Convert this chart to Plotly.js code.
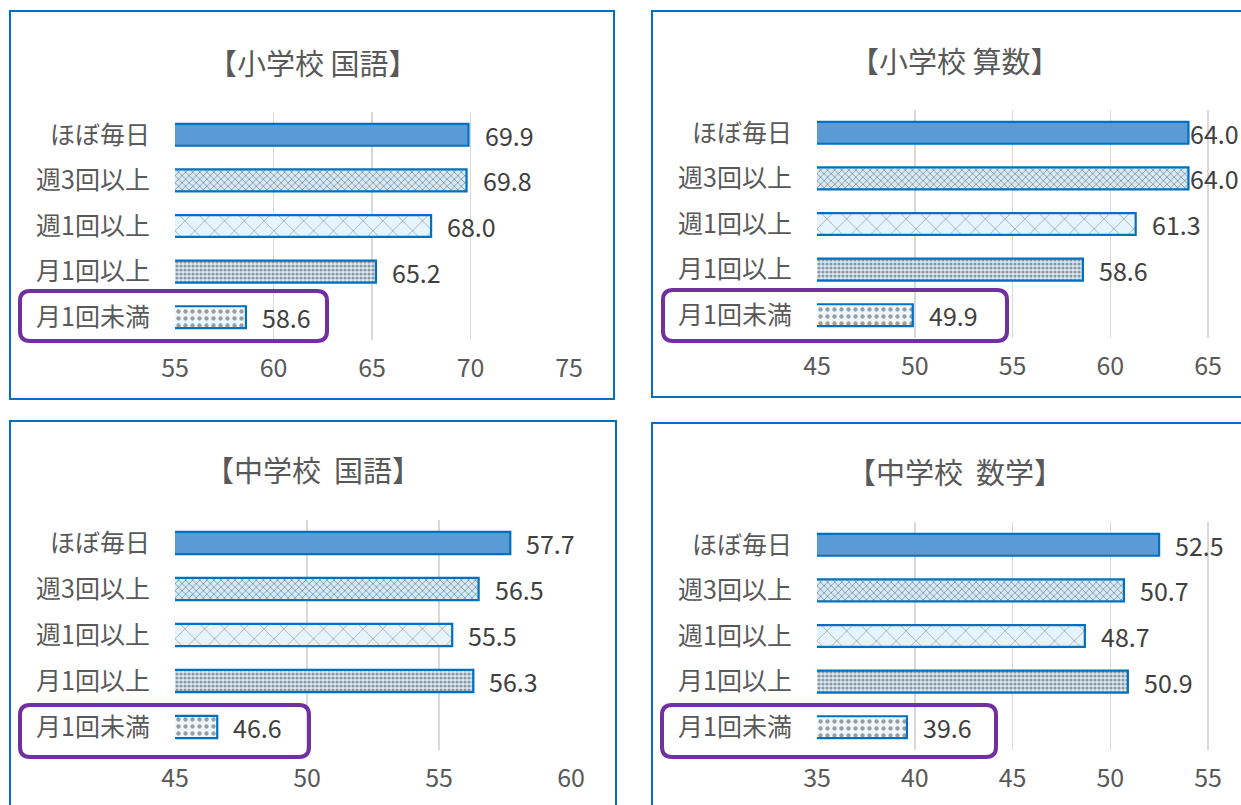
<!DOCTYPE html>
<html>
<head>
<meta charset="utf-8">
<script src="https://cdn.plot.ly/plotly-3.0.1.min.js"></script>
<style>html,body{margin:0;padding:0;background:#fff;}#chart{width:1241px;height:805px;}</style>
</head>
<body>
<div id="chart"></div>
<script>
// ---- data ----
const categories = ['ほぼ毎日', '週3回以上', '週1回以上', '月1回以上', '月1回未満'];
const elemJapanese = [69.9, 69.8, 68.0, 65.2, 58.6];
const elemMath     = [64.0, 64.0, 61.3, 58.6, 49.9];
const juniorJapanese = [57.7, 56.5, 55.5, 56.3, 46.6];
const juniorMath     = [52.5, 50.7, 48.7, 50.9, 39.6];
const titles = ['【小学校 国語】', '【小学校 算数】', '【中学校  国語】', '【中学校  数学】'];
const ticks1 = [55, 60, 65, 70, 75];
const ticks2 = [45, 50, 55, 60, 65];
const ticks3 = [45, 50, 55, 60];
const ticks4 = [35, 40, 45, 50, 55];
const series = [elemJapanese, elemMath, juniorJapanese, juniorMath];
const tickSets = [ticks1, ticks2, ticks3, ticks4];

// ---- layout geometry (pixels) ----
const W = 1241, H = 805;
const geo = [
  {xmin:55, pxPerUnit:(569-175)/20, x0:175, x1:569, y0:112, y1:340, tx:313, ty:62, box:[10,11,614,399], hl:[20,291,327,341], right:614},
  {xmin:45, pxPerUnit:(1208-817)/20, x0:817, x1:1241, y0:110, y1:338, tx:955, ty:60, box:[652,11,1262,397], hl:[663,290,1007,341], right:1240},
  {xmin:45, pxPerUnit:(571-175)/15, x0:175, x1:571, y0:520, y1:750, tx:313, ty:469, box:[10,421,616,815], hl:[20,705,309,757], right:616},
  {xmin:35, pxPerUnit:(1208-817)/20, x0:817, x1:1241, y0:522, y1:750, tx:955, ty:471, box:[652,423,1262,815], hl:[662,705,996,757], right:1240}
];
const px = x => x / W;
const py = y => 1 - y / H;

const fillColors = ['#5B9BD5', '#D3EAF9', '#E6F4FD', '#D9EBF8', '#EEF7FD'];
const patShapes = ['', 'x', 'x', '.', '.'];
const patSizes = [8, 5, 14, 4, 7];
const patSolid = [0.3, 0.32, 0.1, 0.5, 0.3];
const patFg = ['#2E75B6', '#285F92', '#3D6F96', '#2E6FA8', '#4A86BC'];
const fontFam = '"Noto Sans CJK JP", "Noto Sans", sans-serif';

const traces = [];
const layout = {
  width: W, height: H,
  margin: {l:0, r:0, t:0, b:0},
  paper_bgcolor: '#fff', plot_bgcolor: 'rgba(0,0,0,0)',
  showlegend: false,
  bargap: 0.52,
  font: {family: fontFam, color: '#595959'},
  shapes: [], annotations: []
};

series.forEach((vals, i) => {
  const g = geo[i];
  const sfx = i === 0 ? '' : String(i + 1);
  traces.push({
    type: 'bar', orientation: 'h',
    x: vals, y: categories,
    xaxis: 'x' + sfx, yaxis: 'y' + sfx,
    marker: {
      color: fillColors,
      line: {color: '#0070C0', width: 2.2},
      pattern: {shape: patShapes, size: patSizes, solidity: patSolid, fgcolor: patFg, fillmode: 'overlay'}
    },
    hoverinfo: 'skip'
  });
  const xmax = g.xmin + (g.x1 - g.x0) / g.pxPerUnit;
  layout['xaxis' + sfx] = {
    domain: [px(g.x0), Math.min(1, px(g.x1))],
    range: [g.xmin, xmax],
    anchor: 'y' + sfx,
    tickvals: tickSets[i], ticktext: tickSets[i].map(String),
    showgrid: true, gridcolor: '#D9D9D9', gridwidth: 1.5,
    zeroline: false, showline: false,
    ticks: '', ticklabelstandoff: 11,
    tickfont: {size: 25, color: '#595959', family: fontFam},
    fixedrange: true
  };
  layout['yaxis' + sfx] = {
    domain: [py(g.y1), py(g.y0)],
    anchor: 'x' + sfx,
    type: 'category',
    autorange: 'reversed',
    showgrid: false, zeroline: false, showline: false,
    ticks: '', ticklabelstandoff: 24,
    tickfont: {size: 25, color: '#595959', family: fontFam},
    fixedrange: true
  };
  // panel border
  layout.shapes.push({type:'rect', xref:'paper', yref:'paper',
    x0:px(g.box[0]), x1:px(g.box[2]), y0:py(g.box[3]), y1:py(g.box[1]),
    line:{color:'#0070C0', width:2}, fillcolor:'rgba(0,0,0,0)', layer:'below'});
  // highlight rounded box
  const [hx0, hy0, hx1, hy1] = g.hl, r = 10;
  const P = (x, y) => px(x) + ',' + py(y);
  layout.shapes.push({type:'path', xref:'paper', yref:'paper',
    path: 'M' + P(hx0 + r, hy0) + ' L' + P(hx1 - r, hy0) + ' Q' + P(hx1, hy0) + ' ' + P(hx1, hy0 + r) +
          ' L' + P(hx1, hy1 - r) + ' Q' + P(hx1, hy1) + ' ' + P(hx1 - r, hy1) +
          ' L' + P(hx0 + r, hy1) + ' Q' + P(hx0, hy1) + ' ' + P(hx0, hy1 - r) +
          ' L' + P(hx0, hy0 + r) + ' Q' + P(hx0, hy0) + ' ' + P(hx0 + r, hy0) + ' Z',
    line:{color:'#7030A0', width:4}, fillcolor:'rgba(0,0,0,0)', layer:'above'});
  // title
  layout.annotations.push({xref:'paper', yref:'paper', x:px(g.tx), y:py(g.ty),
    xanchor:'center', yanchor:'middle', showarrow:false, text:titles[i],
    font:{size:29, color:'#595959', family:fontFam}});
  // data labels (kept inside the chart area, as the reference does)
  const labelW = 52;
  vals.forEach((v, k) => {
    const barEnd = g.x0 + (v - g.xmin) * g.pxPerUnit;
    const shift = Math.min(14, g.right - labelW - barEnd);
    layout.annotations.push({xref:'x' + sfx, yref:'y' + sfx, x:v, y:categories[k],
      xanchor:'left', yanchor:'middle', xshift:shift, showarrow:false,
      text: v.toFixed(1), font:{size:25, color:'#404040', family:fontFam}});
  });
});

Plotly.newPlot('chart', traces, layout, {displayModeBar:false, staticPlot:true});
</script>
</body>
</html>
